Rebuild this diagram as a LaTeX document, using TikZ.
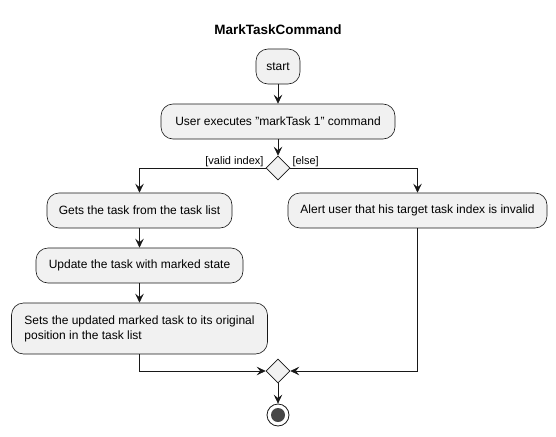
\documentclass[tikz,border=0pt]{standalone}
\usepackage{fontspec}
\setmainfont{Liberation Sans}
\usetikzlibrary{arrows.meta}
\usetikzlibrary{positioning}
\usetikzlibrary{shapes.geometric}

\definecolor{actfill}{HTML}{F1F1F1}
\definecolor{actline}{HTML}{181818}

\tikzset{
  act/.style={draw=actline, fill=actfill, rounded corners=12pt, line width=0.6pt,
    inner xsep=10pt, minimum height=35pt, font=\fontsize{12}{15}\selectfont},
  branch/.style={diamond, draw=actline, fill=actfill, line width=0.6pt,
    minimum width=24pt, minimum height=24pt, inner sep=0pt},
  guard/.style={font=\fontsize{11}{12}\selectfont, inner sep=1pt},
  flow/.style={-{Stealth[length=9pt,width=8.5pt,inset=3.5pt]}, draw=actline, line width=0.7pt},
}

\begin{document}
\begin{tikzpicture}[x=1pt,y=1pt,node distance=2cm,on grid]
   \useasboundingbox (0,0) rectangle (556,-436);
   \node[font=\bfseries\fontsize{13.5}{16}\selectfont] (title) at (278,-30) {MarkTaskCommand};
   \node[act, minimum width=44pt] (start) at (278,-66.5) {start};
   \node[act, minimum width=234pt] (user)   [below=55pt of start] {User executes "markTask 1" command};
   \node[branch] (dec) [below=46.5pt of user] {};
   \node[act, minimum width=185pt] (gets) [below left=42.5pt and 138.5pt of dec] {Gets the task from the task list};
   \node[act, minimum width=207pt] (upd) [below=55pt of gets] {Update the task with marked state};
   \node[act, minimum width=256pt, minimum height=51pt, align=left] (sets) [below=63pt of upd]
      {Sets the updated marked task to its original\\position in the task list};
   \node[act, minimum width=259pt] (alert) [below right=42.5pt and 139.5pt of dec] {Alert user that his target task index is invalid};
   \node[branch] (merge) [below=203pt of dec] {};
   \node[circle, draw=actline, fill=white, line width=0.8pt, minimum size=22pt, inner sep=0pt] (stop) [below=44pt of merge] {};
   \fill[actline!80!white] (stop.center) circle (7pt);
   % guards
   \node[guard, anchor=south east] (valid) at ([xshift=-1pt]dec.west) {[valid index]};
   \node[guard, anchor=south west] (else) at ([xshift=1pt]dec.east) {[else]};
   % flows
   \draw[flow] (start) -- (user);
   \draw[flow] (user) -- (dec);
   \draw[flow] (dec.west) -| (gets.north);
   \draw[flow] (dec.east) -| (alert.north);
   \draw[flow] (gets) -- (upd);
   \draw[flow] (upd) -- (sets);
   \draw[flow] (sets.south) |- (merge.west);
   \draw[flow] (alert.south) |- (merge.east);
   \draw[flow] (merge) -- (stop);
\end{tikzpicture}
\end{document}
